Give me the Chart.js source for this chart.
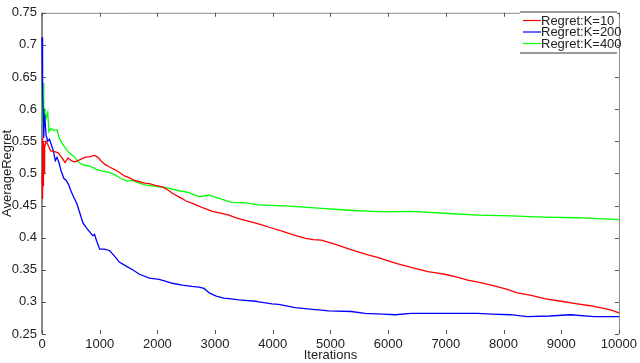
<!DOCTYPE html>
<html>
<head>
<meta charset="utf-8">
<script src="https://cdn.jsdelivr.net/npm/chart.js@4/dist/chart.umd.min.js"></script>
<style>
html,body{margin:0;padding:0;background:#fff;}
#wrap{width:640px;height:363px;position:relative;}
</style>
</head>
<body>
<div id="wrap"><canvas id="c" width="640" height="363"></canvas></div>
<script>
// ---- data ----
const seriesLabels = ["Regret:K=10", "Regret:K=200", "Regret:K=400"];
const seriesColors = ["#ff0000", "#0000ff", "#00ff00"];

const iterK10 = [0,3,6,9,12,15,18,21,25,30,35,40,50,70,100,150,220,280,340,400,450,520,570,650,740,830,910,970,1030,1090,1170,1260,1350,1430,1520,1600,1690,1780,1860,1980,2090,2150,2260,2380,2500,2620,2720,2830,2950,3100,3240,3350,3470,3640,3810,3980,4160,4370,4570,4700,4840,5000,5140,5300,5480,5650,5830,6000,6170,6430,6690,6830,6980,7180,7380,7600,7840,8050,8240,8480,8710,9000,9280,9500,9740,9870,10000];
const regretK10 = [0.50,0.465,0.545,0.47,0.555,0.46,0.53,0.48,0.55,0.49,0.545,0.50,0.54,0.55,0.545,0.535,0.534,0.532,0.525,0.517,0.524,0.519,0.518,0.521,0.525,0.526,0.528,0.525,0.519,0.514,0.510,0.506,0.501,0.496,0.493,0.489,0.487,0.485,0.484,0.481,0.479,0.476,0.469,0.463,0.457,0.453,0.449,0.445,0.441,0.438,0.435,0.431,0.428,0.424,0.420,0.415,0.410,0.404,0.399,0.397,0.396,0.392,0.388,0.383,0.378,0.373,0.369,0.364,0.359,0.353,0.347,0.345,0.343,0.339,0.334,0.330,0.325,0.320,0.314,0.310,0.305,0.301,0.297,0.294,0.290,0.287,0.283];

const iterK200 = [0,5,10,15,20,30,40,50,70,100,130,160,200,230,260,300,330,380,420,460,500,550,600,650,710,780,880,910,950,1000,1080,1170,1250,1340,1450,1570,1690,1860,2030,2150,2260,2430,2600,2720,2810,2900,3020,3150,3240,3410,3700,3760,3990,4100,4390,4600,4970,5360,5600,5900,6120,6400,6700,6980,7300,7550,7800,8120,8410,8800,9160,9570,10000];
const regretK200 = [0.712,0.70,0.66,0.62,0.60,0.555,0.59,0.586,0.56,0.55,0.553,0.545,0.534,0.52,0.525,0.515,0.504,0.492,0.489,0.483,0.473,0.463,0.454,0.44,0.423,0.414,0.403,0.405,0.394,0.382,0.382,0.38,0.372,0.362,0.356,0.350,0.343,0.337,0.335,0.332,0.329,0.326,0.324,0.323,0.321,0.314,0.309,0.306,0.305,0.303,0.301,0.300,0.297,0.296,0.291,0.289,0.286,0.285,0.282,0.281,0.280,0.282,0.282,0.282,0.282,0.282,0.281,0.280,0.277,0.278,0.280,0.277,0.277];

const iterK400 = [0,5,10,20,30,40,50,70,100,120,150,200,260,300,340,400,450,500,570,630,690,780,860,950,1030,1150,1260,1370,1480,1570,1690,1780,2030,2150,2380,2550,2720,2900,3070,3290,3530,3760,4280,4790,5260,5710,6000,6400,6980,7550,8120,8710,9280,10000];
const regretK400 = [0.575,0.60,0.62,0.641,0.59,0.60,0.598,0.585,0.595,0.565,0.57,0.567,0.568,0.555,0.548,0.54,0.534,0.53,0.525,0.518,0.514,0.512,0.510,0.506,0.504,0.502,0.498,0.492,0.488,0.489,0.485,0.482,0.479,0.478,0.473,0.470,0.464,0.466,0.461,0.455,0.454,0.451,0.449,0.446,0.443,0.441,0.440,0.441,0.438,0.435,0.434,0.432,0.431,0.428];

const xTickValues = [0,1000,2000,3000,4000,5000,6000,7000,8000,9000,10000];
const yTickValues = [0.25,0.3,0.35,0.4,0.45,0.5,0.55,0.6,0.65,0.7,0.75];
const xTitle = "Iterations";
const yTitle = "AverageRegret";

// ---- build chart ----
function pts(xs, ys){ return xs.map((x,i)=>({x:x, y:ys[i]})); }
const iters = [iterK10, iterK200, iterK400];
const vals = [regretK10, regretK200, regretK400];

const FONT = "'Liberation Sans', Arial, sans-serif";

const frameAndTicks = {
  id: 'frameAndTicks',
  beforeDatasetsDraw(chart){
    const ctx = chart.ctx, a = chart.chartArea;
    const xs = chart.scales.x, ys = chart.scales.y;
    ctx.save();
    ctx.strokeStyle = '#8a8a8a';
    ctx.lineWidth = 1;
    ctx.beginPath();
    ctx.moveTo(a.left, a.top + 0.5); ctx.lineTo(a.right + 0.5, a.top + 0.5);
    ctx.lineTo(a.right + 0.5, a.bottom);
    ctx.stroke();
    ctx.lineWidth = 2;
    ctx.beginPath();
    ctx.moveTo(a.left, a.top); ctx.lineTo(a.left, a.bottom);
    ctx.stroke();
    ctx.strokeStyle = '#555';
    ctx.lineWidth = 1;
    const L = 4;
    ctx.beginPath();
    xs.ticks.forEach(t => {
      const px = Math.round(xs.getPixelForValue(t.value)) + 0.5;
      ctx.moveTo(px, a.bottom); ctx.lineTo(px, a.bottom - L);
      ctx.moveTo(px, a.top); ctx.lineTo(px, a.top + L);
    });
    ys.ticks.forEach(t => {
      const py = Math.round(ys.getPixelForValue(t.value)) + 0.5;
      ctx.moveTo(a.left, py); ctx.lineTo(a.left + L, py);
      ctx.moveTo(a.right, py); ctx.lineTo(a.right - L, py);
    });
    ctx.stroke();
    ctx.restore();
  },
  afterDraw(chart){
    const ctx = chart.ctx;
    ctx.save();
    const bx = 520, by = 12, bw = 97, bh = 41;
    ctx.fillStyle = '#fff';
    ctx.fillRect(bx, by, bw, bh);
    ctx.strokeStyle = '#9a9a9a';
    ctx.lineWidth = 2;
    ctx.beginPath();
    ctx.moveTo(bx, by); ctx.lineTo(bx + bw, by);
    ctx.moveTo(bx, by + bh); ctx.lineTo(bx + bw, by + bh);
    ctx.stroke();
    ctx.font = "13px " + FONT;
    ctx.textBaseline = 'middle';
    ctx.textAlign = 'left';
    chart.data.datasets.forEach((ds, i) => {
      const y = by + 8.5 + i * 11.5;
      ctx.strokeStyle = ds.borderColor;
      ctx.lineWidth = 1.2;
      ctx.beginPath(); ctx.moveTo(523, y); ctx.lineTo(541, y); ctx.stroke();
      ctx.fillStyle = '#222';
      ctx.fillText(ds.label, 541, y + 0.5);
    });
    ctx.restore();
  }
};

new Chart(document.getElementById('c'), {
  type: 'line',
  data: {
    datasets: seriesLabels.map((lab, i) => ({
      label: lab,
      data: pts(iters[i], vals[i]),
      borderColor: seriesColors[i],
      backgroundColor: seriesColors[i],
      borderWidth: 1.3,
      pointRadius: 0,
      tension: 0,
      fill: false,
      clip: 2
    }))
  },
  options: {
    responsive: false,
    animation: false,
    devicePixelRatio: 1,
    layout: { padding: { top: 5, right: 18, left: 0, bottom: 0 } },
    plugins: { legend: { display: false }, tooltip: { enabled: false } },
    scales: {
      x: {
        type: 'linear', min: 0, max: 10000,
        afterBuildTicks(s){ s.ticks = xTickValues.map(v => ({value: v})); },
        afterFit(s){ s.height = 29; },
        grid: { display: false, drawTicks: false },
        border: { display: false },
        ticks: { color: '#222', padding: 3, font: { size: 13, family: FONT }, maxRotation: 0, autoSkip: false,
                 callback: v => String(v) },
        title: { display: true, text: xTitle, color: '#222', font: { size: 13, family: FONT }, padding: { top: 0, bottom: 0 } }
      },
      y: {
        type: 'linear', min: 0.25, max: 0.75,
        afterBuildTicks(s){ s.ticks = yTickValues.map(v => ({value: v})); },
        afterFit(s){ s.width = 42; },
        grid: { display: false, drawTicks: false },
        border: { display: false },
        ticks: { color: '#222', padding: 5, font: { size: 13, family: FONT }, autoSkip: false,
                 callback: v => String(+Number(v).toFixed(2)) },
        title: { display: true, text: yTitle, color: '#222', font: { size: 13, family: FONT }, padding: { top: 0, bottom: 0 } }
      }
    }
  },
  plugins: [frameAndTicks]
});
</script>
</body>
</html>
